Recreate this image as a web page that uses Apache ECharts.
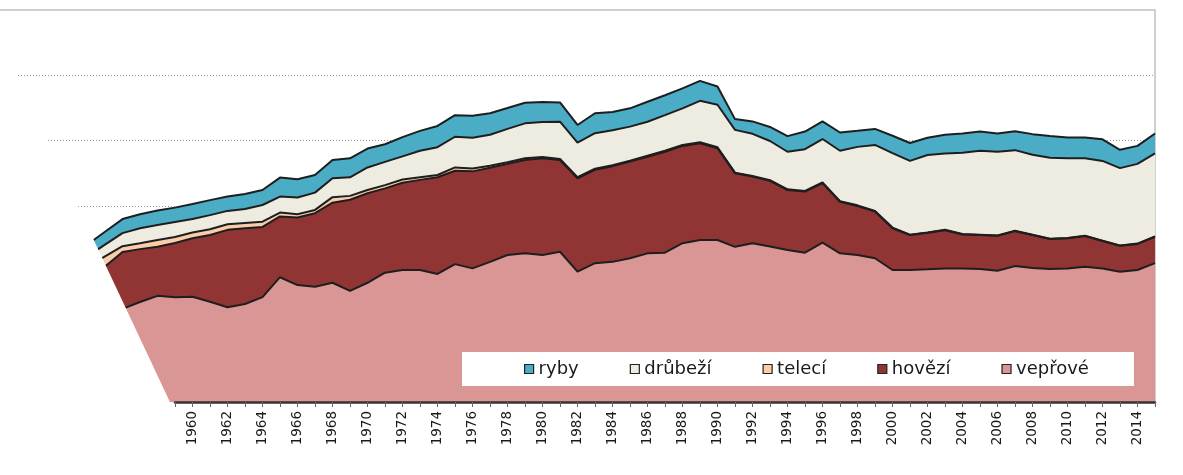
<!DOCTYPE html>
<html>
<head>
<meta charset="utf-8">
<script src="https://cdn.jsdelivr.net/npm/echarts@6/dist/echarts.min.js"></script>
<style>
html,body{margin:0;padding:0;background:#ffffff;}
#chart{width:1183px;height:475px;}
</style>
</head>
<body>
<div id="chart"></div>
<script>
// Category positions (years). Early years lie behind the slanted left wall of the 3D box.
const categories = ['1949','1950','1951','1952','1953','1954','1955','1956','1957','1958','1959',
  '1960','1961','1962','1963','1964','1965','1966','1967','1968','1969',
  '1970','1971','1972','1973','1974','1975','1976','1977','1978','1979',
  '1980','1981','1982','1983','1984','1985','1986','1987','1988','1989',
  '1990','1991','1992','1993','1994','1995','1996','1997','1998','1999',
  '2000','2001','2002','2003','2004','2005','2006','2007','2008','2009',
  '2010','2011','2012','2013','2014','2015'];
const firstDataYear = '1954';
const axisFirstYear = 1959;
const axisLastYear = 2015;

// Series values, kg per person, 1954..2015
const veprove = [24.2,26.3,28.5,30.6,32.5,32.1,32.2,30.7,29.0,30.0,
  32.1,38.2,35.8,35.3,36.5,34.0,36.5,39.6,40.4,40.4,
  39.2,42.2,40.9,42.9,45.0,45.5,45.0,46.0,39.9,42.5,
  42.9,44.0,45.5,45.7,48.6,49.6,49.6,47.5,48.6,47.6,
  46.5,45.7,48.8,45.5,45.0,44.0,40.4,40.4,40.6,40.9,
  40.9,40.7,40.2,41.6,41.0,40.7,40.9,41.4,40.9,39.9,
  40.4,42.5];
const hovezi = [12.9,15.2,17.4,16.2,15.0,16.6,17.9,20.4,23.7,23.2,
  21.5,18.6,20.7,22.5,24.5,27.9,27.4,25.8,26.7,27.6,
  29.6,28.6,29.7,28.8,27.9,28.6,29.6,28.1,28.6,28.6,
  29.3,29.6,29.6,30.9,29.8,29.6,28.1,22.5,20.4,20.1,
  18.4,18.7,18.2,15.8,15.0,14.3,12.8,10.7,11.2,11.7,
  10.4,10.4,10.7,10.7,10.1,9.2,9.2,9.4,8.4,7.9,
  8.0,8.1];
const teleci = [4.3,3.1,1.8,1.8,2.1,1.8,1.8,1.8,1.7,1.6,
  1.6,1.2,1.0,1.0,1.7,1.2,1.0,1.0,1.0,0.8,
  0.7,1.0,0.9,0.6,0.5,0.5,0.4,0.3,0.3,0.3,
  0.3,0.3,0.3,0.3,0.3,0.3,0.3,0.2,0.2,0.2,
  0.2,0.2,0.2,0.2,0.2,0.2,0.2,0.1,0.1,0.1,
  0.1,0.1,0.1,0.1,0.1,0.1,0.1,0.1,0.1,0.1,
  0.1,0.1];
const drubezi = [3.2,3.6,4.0,4.6,4.6,4.6,4.1,4.3,4.1,4.3,
  5.1,4.9,5.1,5.3,5.8,5.7,6.9,7.1,7.1,8.1,
  8.5,9.4,9.4,9.5,10.2,10.7,10.7,11.4,10.6,10.9,
  10.7,10.4,10.4,10.9,11.2,12.7,13.0,13.1,12.9,12.0,
  11.5,12.8,13.3,15.4,17.9,20.2,22.8,22.6,23.7,23.4,
  24.9,25.7,25.6,24.7,24.5,24.8,24.4,23.7,24.4,23.7,
  24.4,25.4];
const ryby = [3.6,3.9,4.3,4.3,4.4,4.4,4.6,4.6,4.4,4.6,
  4.6,5.8,5.6,5.4,5.6,5.8,5.8,5.4,5.9,6.1,
  6.5,6.6,6.7,6.6,6.4,6.3,6.1,5.9,5.4,6.1,
  5.6,5.6,6.1,6.1,6.1,6.1,5.6,3.3,3.8,4.3,
  4.8,5.4,5.4,5.6,4.9,4.9,5.3,5.5,5.3,5.7,
  5.9,5.9,5.6,5.8,6.3,6.6,6.4,6.4,6.6,5.6,
  5.5,6.1];

const legendOrder = ['ryby','drůbeží','telecí','hovězí','vepřové'];

const lead = categories.indexOf(firstDataYear);
function pad(arr){ return new Array(lead).fill('-').concat(arr); }

function band(name, arr, color){
  return {
    name: name, type: 'line', stack: 'total', data: pad(arr),
    xAxisIndex: 0, yAxisIndex: 0,
    symbol: 'none', showSymbol: false, smooth: false,
    color: color, itemStyle: {color: color},
    lineStyle: {color: '#1e1e1e', width: 2},
    areaStyle: {color: color, opacity: 1},
    emphasis: {disabled: true}, z: 2
  };
}

// slanted left wall of the 3D box
function slantX(y){ return 169.3 - 0.47 * (400.7 - y); }

const chart = echarts.init(document.getElementById('chart'), null, {renderer: 'canvas'});
chart.setOption({
  animation: false,
  backgroundColor: '#ffffff',
  grid: [
    {left: 0, right: 28, top: 10, bottom: 73},
    {left: 175, right: 28, top: 10, bottom: 73}
  ],
  xAxis: [
    {gridIndex: 0, type: 'category', data: categories, boundaryGap: false, position: 'top',
     axisLine: {show: true, onZero: false, lineStyle: {color: '#cfcfcf', width: 2}},
     axisTick: {show: false}, axisLabel: {show: false}, splitLine: {show: false}},
    {gridIndex: 1, type: 'value', min: axisFirstYear, max: axisLastYear, interval: 1, position: 'bottom',
     axisLine: {show: true, onZero: false, lineStyle: {color: '#333333', width: 2.5}},
     axisTick: {show: true, length: 5, lineStyle: {color: '#666666', width: 1}},
     axisLabel: {rotate: 90, margin: 9, fontSize: 13.5, fontFamily: 'DejaVu Sans', color: '#1a1a1a',
       formatter: function(v){ return v % 2 === 0 ? String(v) : ''; }},
     splitLine: {show: false}, z: 20}
  ],
  yAxis: [
    {gridIndex: 0, type: 'value', min: 0, max: 120, interval: 20, position: 'right',
     axisLine: {show: true, onZero: false, lineStyle: {color: '#cfcfcf', width: 2}},
     axisTick: {show: false}, axisLabel: {show: false},
     splitLine: {show: true, showMinLine: false, showMaxLine: false,
       lineStyle: {color: '#9a9a9a', width: 1.2, type: [1, 2]}}},
    {gridIndex: 1, type: 'value', min: 0, max: 120, show: false}
  ],
  legend: {
    data: legendOrder, left: 462, top: 352, orient: 'horizontal',
    backgroundColor: '#ffffff', padding: [8, 45, 8, 62], itemGap: 51,
    itemWidth: 9, itemHeight: 9, icon: 'rect',
    itemStyle: {borderColor: '#222222', borderWidth: 1.2},
    textStyle: {fontFamily: 'DejaVu Sans', fontSize: 18, color: '#1a1a1a'},
    selectedMode: false
  },
  graphic: [
    {type: 'polygon', z: 10, silent: true,
     shape: {points: [[-40, 12], [slantX(12), 12], [slantX(404), 404], [-40, 404]]},
     style: {fill: '#ffffff'}}
  ],
  series: [
    band('vepřové', veprove, '#d99694'),
    band('hovězí', hovezi, '#903533'),
    band('telecí', teleci, '#f9cdaa'),
    band('drůbeží', drubezi, '#eeece1'),
    band('ryby', ryby, '#4bacc6')
  ]
});
</script>
</body>
</html>
